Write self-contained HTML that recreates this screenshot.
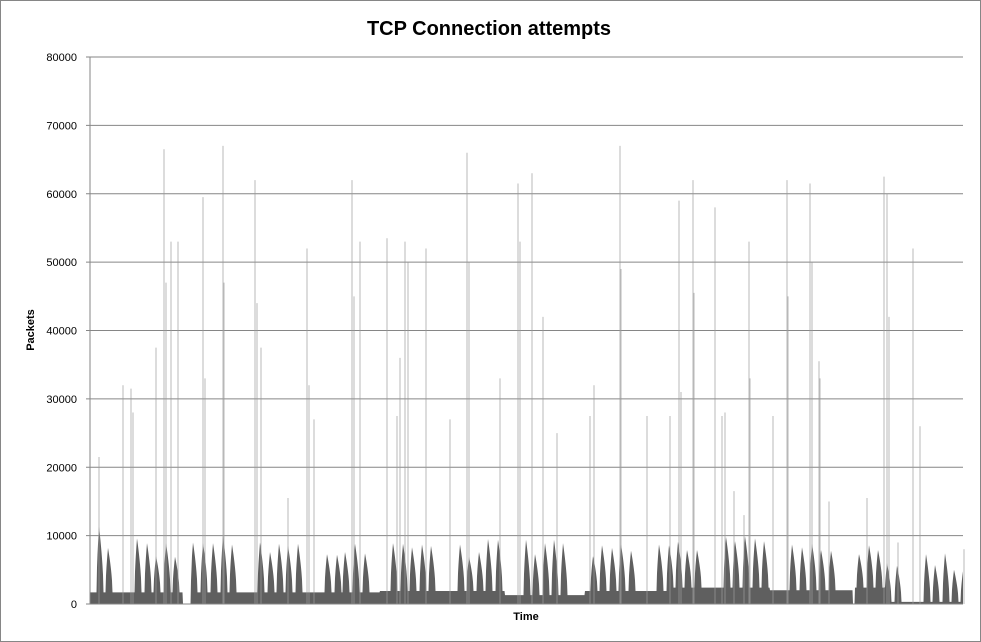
<!DOCTYPE html>
<html><head><meta charset="utf-8"><style>
body{margin:0;background:#fff;}
svg{display:block;font-family:"Liberation Sans",sans-serif;}
</style></head><body>
<svg id="chart" width="981" height="642">
<rect x="0.5" y="0.5" width="980" height="641" fill="#fff" stroke="#868686"/>
<text x="489" y="35" text-anchor="middle" font-size="20" font-weight="bold">TCP Connection attempts</text>
<g id="grid"></g>
<g id="series"></g>
<g id="axes"></g>
<text x="34" y="330" text-anchor="middle" font-size="11" font-weight="bold" transform="rotate(-90 34 330)">Packets</text>
<text x="526" y="620" text-anchor="middle" font-size="11" font-weight="bold">Time</text>
</svg>
<script>
const yTicks = [0,10000,20000,30000,40000,50000,60000,70000,80000];
const baseStarts = [0,93,102,290,415,495,580,680,763,765,795];
const baseValues = [1700,0,1700,1900,1300,1900,2400,2000,0,2400,300];
const bumpTimes = [9,18,47,57,66,76,85,103,113,123,133,142,170,180,189,198,208,237,247,255,265,275,303,313,322,332,341,370,379,389,398,408,436,445,455,464,473,503,512,522,531,541,569,579,588,597,607,636,645,655,665,674,702,712,722,731,741,769,779,788,797,807,836,845,855,864,873];
const bumpValues = [11300,8200,9600,8900,7000,8900,6900,9000,8900,8900,10000,8700,9000,7600,8800,8500,8800,7300,7200,7600,8800,7400,8900,8800,8300,8700,8500,8700,6900,7600,9500,9400,9400,7300,8900,9400,8900,7000,8600,8200,8700,7800,8700,8600,9100,7900,7900,9800,9200,9900,9600,9200,8700,8300,8800,7900,7800,7300,8600,7900,6000,5600,7300,5700,7400,5000,4800];
const spikeTimes = [9,33,41,43,66,74,76,81,88,113,115,133,134,165,167,171,198,217,219,224,262,264,270,297,307,310,315,318,336,360,377,379,410,428,430,442,453,467,500,504,530,531,557,580,589,591,603,604,625,632,635,644,654,659,660,683,697,698,720,722,729,730,739,777,794,797,799,808,823,830,874];
const spikeValues = [21500,32000,31500,28000,37500,66500,47000,53000,53000,59500,33000,67000,47000,62000,44000,37500,15500,52000,32000,27000,62000,45000,53000,53500,27500,36000,53000,50000,52000,27000,66000,50000,33000,61500,53000,63000,42000,25000,27500,32000,67000,49000,27500,27500,59000,31000,62000,45500,58000,27500,28000,16500,13000,53000,33000,27500,62000,45000,61500,50000,35500,33000,15000,15500,62500,60000,42000,9000,52000,26000,8000];

const NS="http://www.w3.org/2000/svg";
const X0=90,X1=963,Y0=604,Y1=57,TMAX=873;
const xs=t=>X0+(X1-X0)*t/TMAX;
const ys=v=>Y0-(Y0-Y1)*v/80000;
function mk(tag,attrs,parent){const e=document.createElementNS(NS,tag);for(const k in attrs)e.setAttribute(k,attrs[k]);parent.appendChild(e);return e;}
const grid=document.getElementById('grid'),axes=document.getElementById('axes'),series=document.getElementById('series');
yTicks.forEach(v=>{
  if(v>0){const l=mk('line',{x1:X0,x2:X1,y1:ys(v),y2:ys(v),stroke:'#868686','stroke-width':1},grid);
  
  }
  const tk=mk('line',{x1:X0-4,x2:X0,y1:ys(v),y2:ys(v),stroke:'#868686'},axes);
  
  
  const tx=mk('text',{x:77,y:ys(v)+4,'text-anchor':'end','font-size':11},axes);
  tx.textContent=v;
  
  
});
function base(t){let v=baseValues[0];for(let i=0;i<baseStarts.length;i++){if(t>=baseStarts[i])v=baseValues[i];}return v;}
let d='M'+xs(0)+','+Y0;
for(let t=0;t<=TMAX;t+=0.5){
  const b=base(t);let v=b;
  bumpTimes.forEach((bt,i)=>{const dx=t-bt;const w=dx<0?2.5:4.5;const a=Math.abs(dx);if(a<w){const f=Math.pow(1-a/w,0.6);v=Math.max(v,b+(bumpValues[i]-b)*f);}});
  d+=' L'+xs(t).toFixed(1)+','+ys(v).toFixed(1);
}
d+=' L'+xs(TMAX)+','+Y0+' Z';
const area=mk('path',{d:d,fill:'#5f5f5f'},series);


spikeTimes.forEach((t,i)=>{
  const l=mk('line',{x1:xs(t),x2:xs(t),y1:Y0,y2:ys(spikeValues[i]),stroke:'#9a9a9a','stroke-width':1,'stroke-opacity':0.7},series);
  
  
});
const ya=mk('line',{x1:X0,x2:X0,y1:Y1,y2:Y0,stroke:'#868686'},axes);


const xa=mk('line',{x1:X0,x2:X1,y1:Y0,y2:Y0,stroke:'#868686'},axes);


</script>
</body></html>
